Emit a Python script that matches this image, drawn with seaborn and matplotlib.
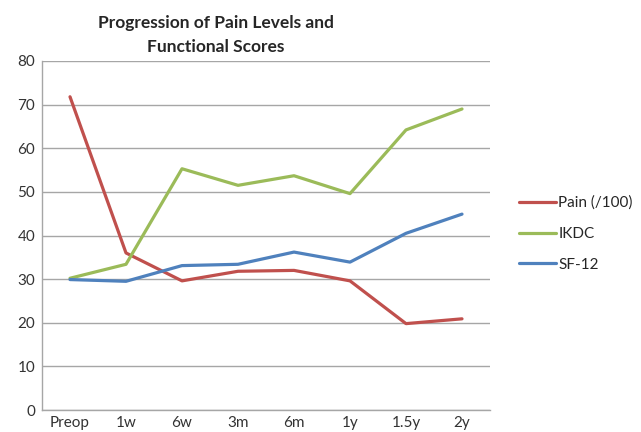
import pandas as pd
import matplotlib
matplotlib.use("Agg")
import matplotlib.pyplot as plt
import seaborn as sns

# Data
timepoints = ["Preop", "1w", "6w", "3m", "6m", "1y", "1.5y", "2y"]
pain = [71.8, 36.0, 29.6, 31.8, 32.0, 29.6, 19.8, 20.9]
ikdc = [30.2, 33.4, 55.3, 51.5, 53.7, 49.6, 64.2, 69.0]
sf12 = [29.9, 29.5, 33.1, 33.4, 36.2, 33.9, 40.5, 44.9]
series_names = ["Pain (/100)", "IKDC", "SF-12"]
palette = ["#C0504D", "#9BBB59", "#4F81BD"]

df = pd.DataFrame({"time": timepoints * 3,
                   "score": pain + ikdc + sf12,
                   "series": [s for s in series_names for _ in timepoints]})

sns.set_theme(style="white")
plt.rcParams['font.family'] = ['Lato', 'DejaVu Sans']

fig = plt.figure(figsize=(6.41, 4.32), dpi=100)
ax = fig.add_axes([42 / 641, 1 - 410 / 432, 448 / 641, 349 / 432])

sns.lineplot(data=df, x="time", y="score", hue="series", hue_order=series_names,
             palette=palette, linewidth=2.3, sort=False, ax=ax)

ax.set_xlim(-0.5, len(timepoints) - 0.5)
ax.set_ylim(0, 80)
ax.set_yticks(range(0, 81, 10))
ax.yaxis.grid(True, color="#A6A6A6", linewidth=1)
ax.set_axisbelow(True)
for side in ["top", "right"]:
    ax.spines[side].set_visible(False)
for side in ["left", "bottom"]:
    ax.spines[side].set_color("#A6A6A6")
    ax.spines[side].set_linewidth(1)
ax.tick_params(axis="both", length=0, labelsize=11, colors="#333333")
ax.tick_params(axis="x", pad=4)
ax.tick_params(axis="y", pad=5)
ax.set_xlabel("")
ax.set_ylabel("")

leg = ax.legend(loc="center left", bbox_to_anchor=(1.035, 0.505), frameon=False,
                fontsize=11, handlelength=2.4, handletextpad=0.15, labelspacing=1.1)
for line in leg.get_lines():
    line.set_linewidth(2.3)

fig.text(216 / 641, 1 - 35 / 432, "Progression of Pain Levels and\nFunctional Scores",
         ha="center", va="center", fontsize=12.5, fontweight="bold", linespacing=1.55)

fig.savefig("out.png", dpi=100)
